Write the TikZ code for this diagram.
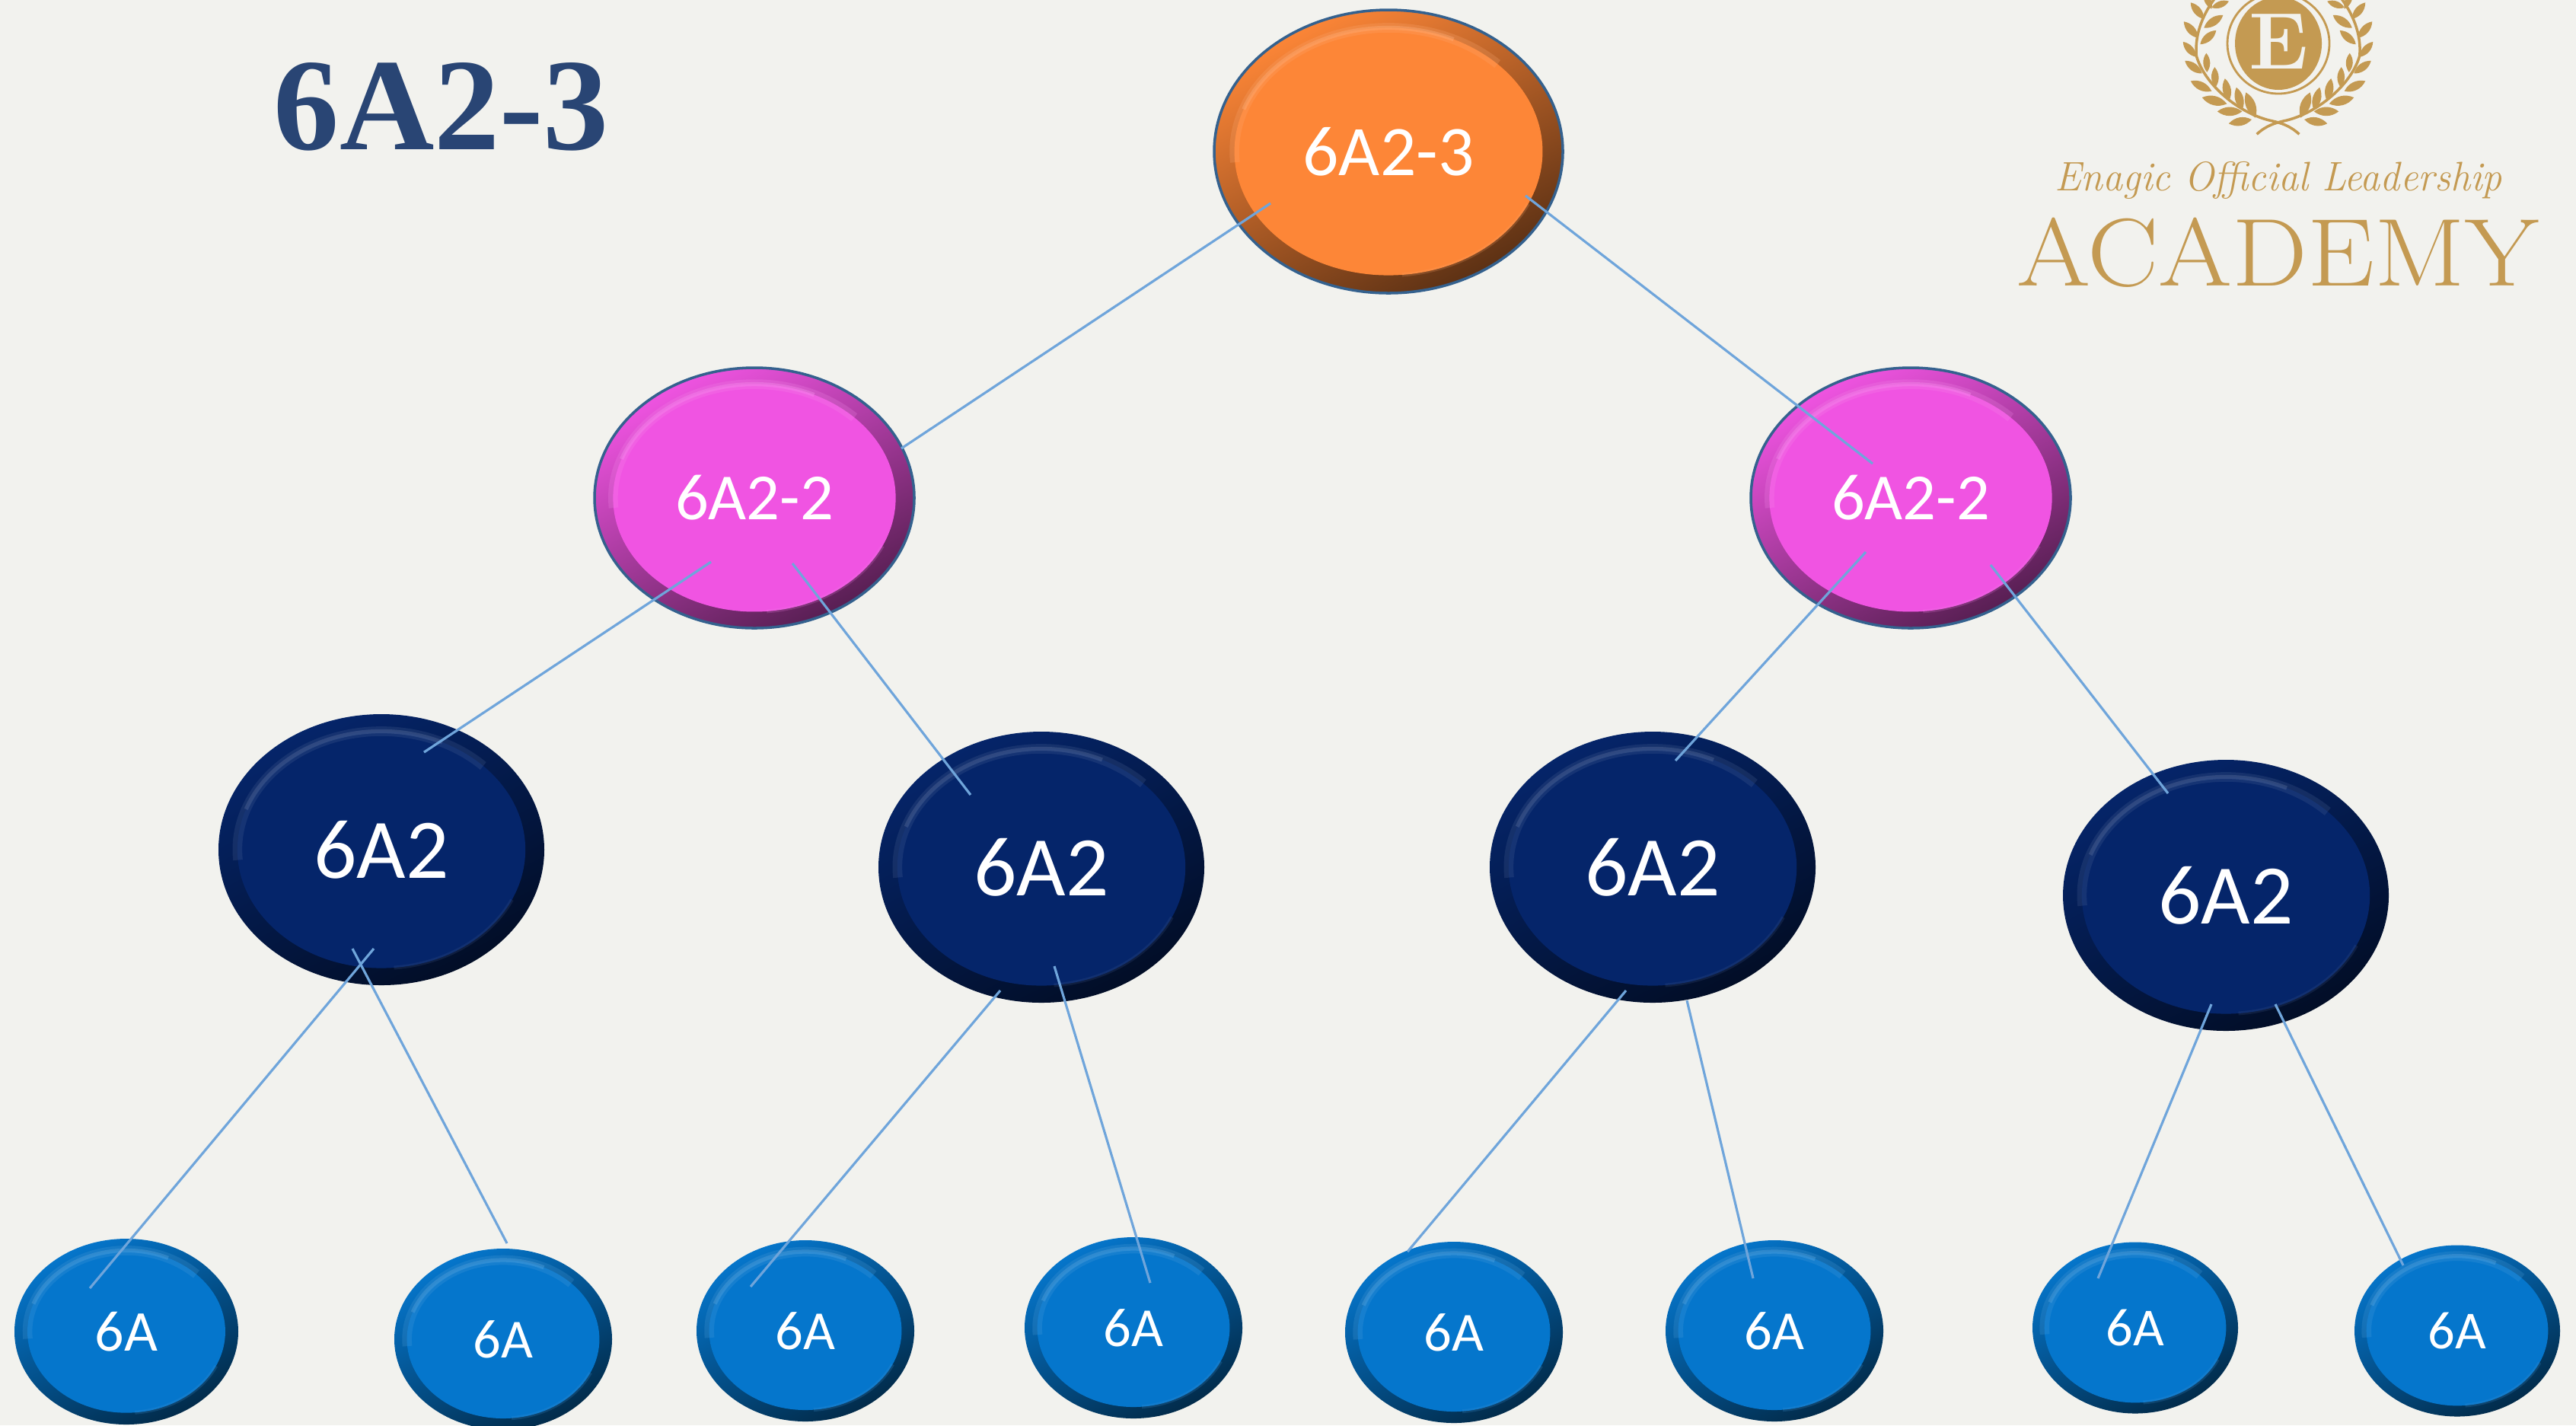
\documentclass[tikz,border=0pt]{standalone}
\usepackage{fontspec}
\usepackage{graphicx}
\usetikzlibrary{shapes.geometric}
\newfontfamily\labelfont{Carlito}
\newfontfamily\headfont{Liberation Serif}
\definecolor{paper}{HTML}{F2F2EE}
\definecolor{gold}{HTML}{C49A52}
\definecolor{linkblue}{HTML}{6FA5DB}
\definecolor{rimblue}{HTML}{34618E}
\definecolor{orangeface}{HTML}{FD8637}
\definecolor{pinkface}{HTML}{F054E2}
\definecolor{navyface}{HTML}{05256A}
\definecolor{blueface}{HTML}{0576CC}
\definecolor{headblue}{HTML}{294574}
\tikzset{
    bevel/.style n args={3}{ellipse, inner sep=0pt, outer sep=0pt, text=white,
        minimum width=#1cm, minimum height=#2cm,
        top color=#3, middle color=#3!82!black, bottom color=#3!36!black, shading angle=28,
        path picture={
            \fill[#3] (path picture bounding box.center) ellipse [x radius={0.442*#1}, y radius={0.437*#2}];
            \draw[#3!68!white, line width=3.6pt, opacity=0.22]
                ([shift={(185:{0.442*#1} and {0.437*#2})}]path picture bounding box.center)
                arc [start angle=185, end angle=45, x radius={0.442*#1}, y radius={0.437*#2}];
            \draw[#3!68!white, line width=1.5pt, opacity=0.4]
                ([shift={(160:{0.442*#1} and {0.437*#2})}]path picture bounding box.center)
                arc [start angle=160, end angle=65, x radius={0.442*#1}, y radius={0.437*#2}];
            \draw[#3!75!white, line width=1.4pt, opacity=0.2]
                ([shift={(-85:{0.442*#1} and {0.437*#2})}]path picture bounding box.center)
                arc [start angle=-85, end angle=-25, x radius={0.442*#1}, y radius={0.437*#2}];
        }},
    rootnode/.style={bevel={4.58}{3.72}{orangeface}, draw=rimblue, line width=1pt, font=\labelfont\fontsize{26.6}{30}\selectfont},
    pinknode/.style={bevel={4.2}{3.42}{pinkface}, draw=rimblue, line width=1pt, font=\labelfont\fontsize{24.6}{28}\selectfont},
    navynode/.style={bevel={4.28}{3.56}{navyface}, font=\labelfont\fontsize{31.7}{36}\selectfont},
    leafnode/.style={bevel={2.86}{2.38}{blueface}, font=\labelfont\fontsize{20.6}{24}\selectfont},
    leafwide/.style={bevel={2.94}{2.44}{blueface}, font=\labelfont\fontsize{21.6}{24}\selectfont},
    leafslim/.style={bevel={2.7}{2.25}{blueface}, font=\labelfont\fontsize{20}{24}\selectfont},
    link/.style={linkblue, line width=0.9pt},
    leaf/.style={fill=gold},
    goldtext/.style={text=gold, inner sep=0pt, anchor=base},
}
\newcommand{\laurel}{
    \foreach \bx/\by/\tx/\ty in {715/472/655/488, 690/440/625/440, 650/410/585/385, 610/360/555/320,
        585/290/540/240, 570/225/535/165, 575/150/537/85, 590/75/555/10, 610/35/590/-30,
        725/465/700/365, 690/435/675/345, 655/400/645/310, 620/345/618/265,
        598/285/596/210, 580/175/622/120, 590/110/640/60, 610/30/655/5}
        \fill[leaf] (\bx,\by) to[bend left=38] (\tx,\ty) to[bend left=38] (\bx,\by);
    \draw[gold, line width=1pt] (840,530) .. controls (815,495) and (790,485) .. (770,478)
        .. controls (680,450) and (590,330) .. (570,220) .. controls (565,130) and (590,50) .. (620,-10);
}
\begin{document}
\begin{tikzpicture}
    \useasboundingbox (0,0) rectangle (33.84,-18.72);
    \fill[paper] (0,0) rectangle (33.84,-18.72);

    \node[text=headblue, inner sep=0pt, font=\headfont\bfseries\fontsize{49}{56}\selectfont] (title) at (5.8,-1.40) {6A2-3};

    \begin{scope}
    \clip (0,0) rectangle (33.84,-18.72);
    \begin{scope}[shift={(26,0)}, x=0.005cm, y=-0.00333cm]
        \laurel
    \end{scope}
    \begin{scope}[shift={(33.85,0)}, x=-0.005cm, y=-0.00333cm]
        \laurel
    \end{scope}
    \draw[gold, line width=0.8pt] (29.93,-0.57) ellipse [x radius=0.67, y radius=0.66];
    \fill[gold] (29.93,-0.57) ellipse [x radius=0.57, y radius=0.61];
    \node[text=paper, inner sep=0pt, font=\bfseries\fontsize{30}{32}\selectfont] (crest) at (29.93,-0.55) {E};
    \end{scope}
    \node[goldtext, font=\itshape\fontsize{15.4}{18}\selectfont] (motto) at (29.93,-2.5) {\scalebox{0.965}[1]{Enagic Official Leadership}};
    \node[goldtext, font=\fontsize{36}{40}\selectfont] (academy) at (29.92,-3.75) {\scalebox{1.105}[1]{ACADEMY}};

    \node[rootnode] (root) at (18.24,-1.99) {6A2-3};

    \node[pinknode] (pinkl) at (9.91,-6.54) {6A2-2};
    \node[pinknode] (pinkr) at (25.10,-6.54) {6A2-2};

    \node[navynode] (navya) at (5.01,-11.16) {6A2};
    \node[navynode] (navyb) at (13.68,-11.39) {6A2};
    \node[navynode] (navyc) at (21.71,-11.39) {6A2};
    \node[navynode] (navyd) at (29.24,-11.76) {6A2};

    \node[leafwide] (sixa) at (1.66,-17.49) {6A};
    \node[leafnode] (sixb) at (6.61,-17.59) {6A};
    \node[leafnode] (sixc) at (10.58,-17.48) {6A};
    \node[leafnode] (sixd) at (14.89,-17.44) {6A};
    \node[leafnode] (sixe) at (19.10,-17.50) {6A};
    \node[leafnode] (sixf) at (23.31,-17.48) {6A};
    \node[leafslim] (sixg) at (28.05,-17.44) {6A};
    \node[leafslim] (sixh) at (32.28,-17.48) {6A};

    \draw[link] ([shift={(-1.55,-0.68)}]root.center) -- ([shift={(1.93,0.65)}]pinkl.center);
    \draw[link] ([shift={(1.80,-0.58)}]root.center) -- ([shift={(-0.50,0.45)}]pinkr.center);

    \draw[link] ([shift={(-0.57,-0.84)}]pinkl.center) -- ([shift={(0.56,1.28)}]navya.center);
    \draw[link] ([shift={(0.50,-0.86)}]pinkl.center) -- ([shift={(-0.93,0.95)}]navyb.center);
    \draw[link] ([shift={(-0.59,-0.71)}]pinkr.center) -- ([shift={(0.30,1.40)}]navyc.center);
    \draw[link] ([shift={(1.05,-0.88)}]pinkr.center) -- ([shift={(-0.76,1.34)}]navyd.center);

    \draw[link] ([shift={(-0.10,-1.30)}]navya.center) -- ([shift={(-0.48,0.57)}]sixa.center);
    \draw[link] ([shift={(-0.38,-1.30)}]navya.center) -- ([shift={(0.05,1.26)}]sixb.center);
    \draw[link] ([shift={(-0.54,-1.62)}]navyb.center) -- ([shift={(-0.72,0.58)}]sixc.center);
    \draw[link] ([shift={(0.17,-1.30)}]navyb.center) -- ([shift={(0.22,0.59)}]sixd.center);
    \draw[link] ([shift={(-0.35,-1.62)}]navyc.center) -- ([shift={(-0.61,1.06)}]sixe.center);
    \draw[link] ([shift={(0.45,-1.75)}]navyc.center) -- ([shift={(-0.28,0.69)}]sixf.center);
    \draw[link] ([shift={(-0.19,-1.43)}]navyd.center) -- ([shift={(-0.49,0.65)}]sixg.center);
    \draw[link] ([shift={(0.65,-1.43)}]navyd.center) -- ([shift={(-0.71,0.86)}]sixh.center);
\end{tikzpicture}
\end{document}
